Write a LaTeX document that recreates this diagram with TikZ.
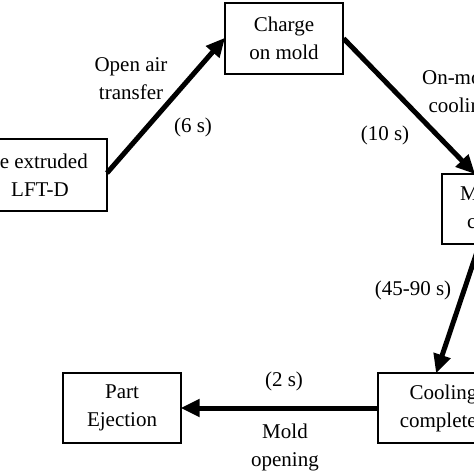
\documentclass[tikz,border=0pt]{standalone}
\usepackage{fontspec}
\setmainfont{Liberation Serif}
\usetikzlibrary{arrows.meta,calc}
\begin{document}
\begin{tikzpicture}[x=1pt,y=-1pt,
  box/.style={draw,line width=1.2pt,minimum height=70pt,inner sep=0pt,align=center,font=\fontsize{21}{28}\selectfont},
  lbl/.style={inner sep=0pt,align=center,font=\fontsize{21}{28}\selectfont},
  flow/.style={line width=5pt,-{Triangle[length=19pt,width=17pt]},shorten >=-1pt}]
\useasboundingbox (0,0) rectangle (474,474);
\clip (0,0) rectangle (474,474);
\fill[white] (0,0) rectangle (474,474);
% boxes
\node[box,minimum width=118pt,minimum height=71pt] (charge) at (284,38.5) {Charge\\on mold};
\node[box,minimum width=134pt,minimum height=72pt] (left) at (40,175) {};
\node[lbl,anchor=base east] (lt1) at (88,168) {The extruded};
\node[lbl,anchor=base] (lt2) at (40,196) {LFT-D};
\node[box,minimum width=100pt,minimum height=70pt] (mold) at (492,209) {};
\node[lbl,anchor=base west] (mt1) at (460,200) {Mold};
\node[lbl,anchor=base west] (mt2) at (467,228) {closed};
\node[box,minimum width=131pt] (cool) at (443.5,408) {Cooling\\completed};
\node[box,minimum width=118pt] (part) at (122,408) {Part\\Ejection};
% connectors
\coordinate (a1) at (107,173);
\draw[flow] (a1) -- (charge.west);
\coordinate (a2) at ($(mold.north west)+(33,0)$);
\draw[flow] (charge.east) -- (a2);
\coordinate (a3) at ($(mold.south west)+(38,0)$);
\coordinate (a4) at ($(cool.north west)+(59,0)$);
\draw[flow] (a3) -- (a4);
\draw[flow] (cool.west) -- (part.east);
% labels
\node[lbl] (l1) at (131,79) {Open air\\transfer};
\node[lbl] (l2) at (193,127) {(6 s)};
\node[lbl] (l3) at (385,135) {(10 s)};
\node[lbl] (l4) at (460,93) {On-mold\\cooling};
\node[lbl] (l5) at (413,290) {(45-90 s)};
\node[lbl] (l6) at (284,381) {(2 s)};
\node[lbl] (l7) at (285,447) {Mold\\opening};
\end{tikzpicture}
\end{document}
